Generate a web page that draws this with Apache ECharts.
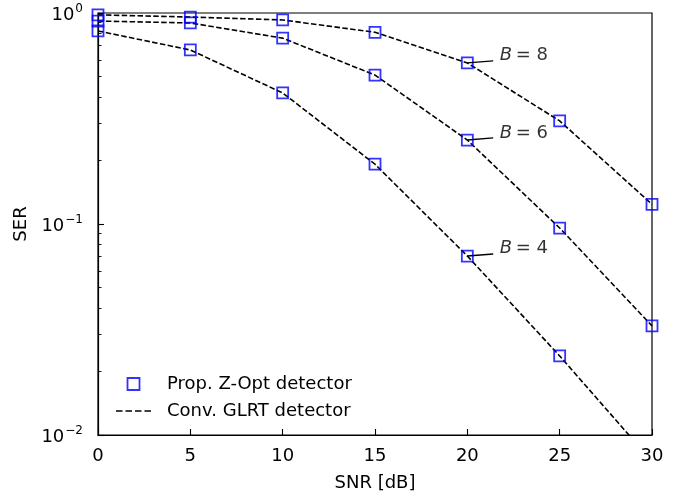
<!DOCTYPE html>
<html lang="en">
<head>
    <meta charset="UTF-8">
    <title>SER vs SNR</title>
    <script src="https://cdn.jsdelivr.net/npm/echarts@6/dist/echarts.min.js"></script>
    <style>
        body { margin: 0; background: #fff; }
        #chart { width: 685px; height: 492px; }
    </style>
</head>
<body>
    <div id="chart"></div>
    <script>
        // SNR grid [dB]
        const snr = [0, 5, 10, 15, 20, 25, 30];

        // SER values (same for both detectors)
        const serB4 = [0.822, 0.668, 0.418, 0.192, 0.0705, 0.0237, 0.0075];
        const serB6 = [0.916, 0.897, 0.76, 0.508, 0.25, 0.0957, 0.0329];
        const serB8 = [0.98, 0.957, 0.927, 0.81, 0.58, 0.308, 0.124];

        const yMajorTicks = [0.01, 0.1, 1];
        const yMinorTicks = [0.02, 0.03, 0.04, 0.05, 0.06, 0.07, 0.08, 0.09,
                             0.2, 0.3, 0.4, 0.5, 0.6, 0.7, 0.8, 0.9];

        // annotation: label, marker point, end of pointer line, text anchor
        const notes = [
            { b: 8, from: [20, 0.58], to: [21.4, 0.593], text: [21.75, 0.628] },
            { b: 6, from: [20, 0.25], to: [21.4, 0.256], text: [21.75, 0.268] },
            { b: 4, from: [20, 0.0705], to: [21.4, 0.0721], text: [21.75, 0.0763] }
        ];

        const PROP = 'Prop. Z-Opt detector';
        const CONV = 'Conv. GLRT detector';
        const FONT = 'DejaVu Sans';
        const FS = 18;

        const sets = [serB4, serB6, serB8];
        const pairs = arr => snr.map((x, i) => [x, arr[i]]);

        const series = [];
        sets.forEach(arr => {
            series.push({
                name: CONV,
                type: 'line',
                data: pairs(arr),
                showSymbol: false,
                symbol: 'none',
                clip: true,
                lineStyle: { color: '#000', width: 1.6, type: [5.5, 2.4] },
                z: 2
            });
        });
        sets.forEach(arr => {
            series.push({
                name: PROP,
                type: 'scatter',
                data: pairs(arr),
                symbol: 'rect',
                symbolSize: 11,
                clip: true,
                itemStyle: { color: 'transparent', borderColor: '#0000ff', borderWidth: 1.8 },
                z: 3
            });
        });

        // pointer lines and labels
        series.push({
            name: 'notes',
            type: 'scatter',
            data: notes.map(n => ({ value: n.text, b: n.b })),
            symbolSize: 0,
            label: {
                show: true,
                position: 'right',
                distance: 0,
                formatter: p => '{i|B} {n|= ' + p.data.b + '}',
                rich: {
                    i: { fontFamily: FONT, fontSize: FS, fontStyle: 'italic', color: '#000' },
                    n: { fontFamily: FONT, fontSize: FS, color: '#000' }
                }
            },
            markLine: {
                silent: true,
                symbol: 'none',
                label: { show: false },
                lineStyle: { color: '#000', width: 1.4, type: 'solid' },
                data: notes.map(n => [{ coord: n.from }, { coord: n.to }])
            },
            z: 4
        });

        const chart = echarts.init(document.getElementById('chart'));
        chart.setOption({
            animation: false,
            textStyle: { fontFamily: FONT },
            grid: {
                left: 98, right: 33, top: 13, bottom: 57,
                outerBoundsMode: 'none', containLabel: false,
                show: true, borderColor: '#000', borderWidth: 1.2, backgroundColor: 'transparent'
            },
            legend: {
                orient: 'vertical',
                left: 111,
                top: 370,
                itemWidth: 35,
                itemHeight: 12,
                itemGap: 9,
                textStyle: { fontFamily: FONT, fontSize: FS, color: '#000', padding: [0, 0, 0, 11] },
                data: [
                    { name: PROP, icon: 'path://M0,0h10v10h-10z', itemStyle: { color: 'transparent', borderColor: '#0000ff', borderWidth: 1.8 } },
                    { name: CONV, icon: 'path://M0,0h6.5v1.6h-6.5zM9.5,0h6.5v1.6h-6.5zM19,0h6.5v1.6h-6.5zM28.5,0h6.5v1.6h-6.5z', itemStyle: { color: '#000', borderWidth: 0 } }
                ]
            },
            xAxis: {
                type: 'value',
                min: 0, max: 30, interval: 5,
                name: 'SNR [dB]',
                nameLocation: 'middle',
                nameGap: 39,
                nameTextStyle: { fontFamily: FONT, fontSize: FS, color: '#000' },
                axisLine: { lineStyle: { color: '#000', width: 1.2 } },
                axisTick: { inside: true, length: 6, lineStyle: { color: '#000', width: 1.1 } },
                axisLabel: { margin: 12, fontFamily: FONT, fontSize: FS, color: '#000' },
                splitLine: { show: false }
            },
            yAxis: [{
                type: 'log',
                logBase: 10,
                min: 0.01, max: 1,
                name: 'SER',
                nameLocation: 'middle',
                nameGap: 60,
                nameTextStyle: { fontFamily: FONT, fontSize: FS, color: '#000' },
                axisLine: { lineStyle: { color: '#000', width: 1.2 } },
                axisTick: { inside: true, length: 6, lineStyle: { color: '#000', width: 1.1 } },
                axisLabel: {
                    margin: 15,
                    customValues: yMajorTicks,
                    formatter: v => {
                        const e = Math.round(Math.log10(v));
                        return '{b|10}{s|' + (e < 0 ? '\u2212' + (-e) : e) + '}';
                    },
                    rich: {
                        b: { fontFamily: FONT, fontSize: FS, color: '#000', lineHeight: 22, verticalAlign: 'bottom' },
                        s: { fontFamily: FONT, fontSize: 12, color: '#000', lineHeight: 22, verticalAlign: 'top', padding: [1, 0, 0, 1] }
                    }
                },
                splitLine: { show: false }
            }, {
                type: 'log',
                logBase: 10,
                min: 0.01, max: 1,
                position: 'left',
                axisLine: { show: false },
                axisLabel: { show: false },
                axisTick: { inside: true, length: 3.5, customValues: yMinorTicks, lineStyle: { color: '#000', width: 0.9 } },
                splitLine: { show: false }
            }],
            series: series
        });
    </script>
</body>
</html>
